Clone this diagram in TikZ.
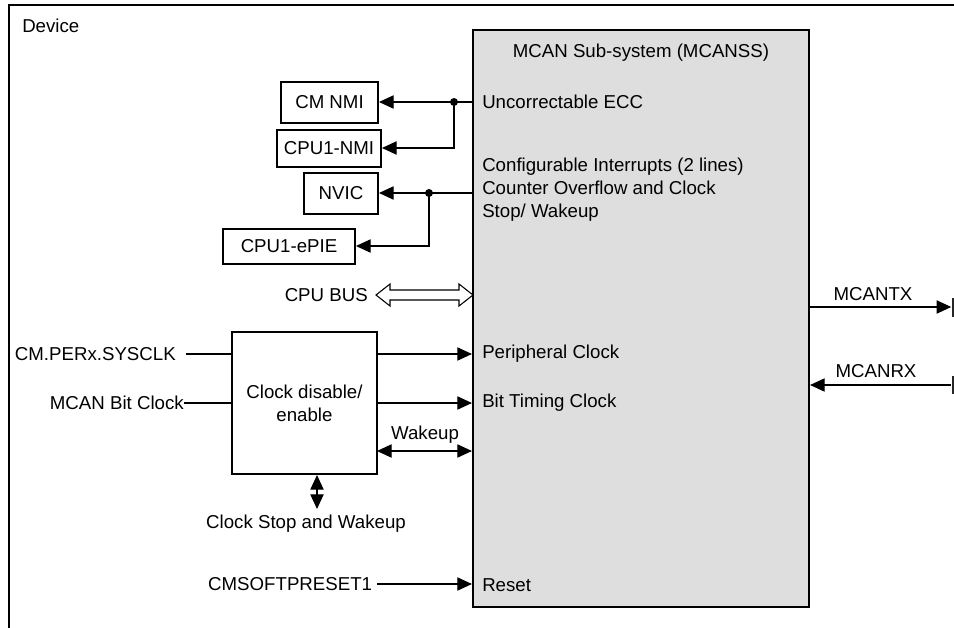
\documentclass[tikz,border=0pt]{standalone}
\usepackage{fontspec}
\setmainfont{Liberation Sans}
\usetikzlibrary{arrows.meta,calc}
\definecolor{subgray}{HTML}{DEDEDE}
\begin{document}
\begin{tikzpicture}[x=0.75pt,y=-0.75pt,
  every node/.style={font=\fontsize{14}{17}\selectfont},
  box/.style={draw,line width=1.5pt,inner sep=0pt,align=center},
  lbl/.style={inner sep=0pt},
  conn/.style={line width=0.8pt},
  arr/.style={conn,-{Triangle[length=11pt,width=10pt]}},
  darr/.style={conn,{Triangle[length=11pt,width=10pt]}-{Triangle[length=11pt,width=10pt]}},
  dot/.style={circle,fill,inner sep=0pt,minimum size=6pt}]
\useasboundingbox (0,0) rectangle (954,628);
% device frame
\draw[line width=1.5pt] (9,628) -- (9,5) -- (954,5);
\node[lbl,anchor=west] (dev) at (22,26) {Device};
% MCANSS
\node[draw,fill=subgray,line width=1.6pt,minimum width=336*0.75pt,minimum height=577*0.75pt,inner sep=0pt] (mc) at (641,318.5) {};
\node[lbl] (mctitle) at (641,53) {MCAN Sub-system (MCANSS)};
\node[lbl,anchor=west] (uecc) at (482,102) {Uncorrectable ECC};
\node[lbl,anchor=north west,align=left] (cfg) at (482,158) {Configurable Interrupts (2 lines)\\Counter Overflow and Clock\\Stop/ Wakeup};
\node[lbl,anchor=west] (pclk) at (482,354) {Peripheral Clock};
\node[lbl,anchor=west] (btclk) at (482,403) {Bit Timing Clock};
\node[lbl,anchor=west] (rst) at (482,585) {Reset};
% interrupt target boxes
\node[box,minimum width=97*0.75pt,minimum height=41*0.75pt] (cmnmi) at (329.5,102) {CM NMI};
\node[box,minimum width=104*0.75pt,minimum height=37*0.75pt] (cpunmi) at (329,148) {CPU1-NMI};
\node[box,minimum width=74*0.75pt,minimum height=41*0.75pt] (nvic) at (341,193) {NVIC};
\node[box,minimum width=132*0.75pt,minimum height=35*0.75pt] (epie) at (289,246) {CPU1-ePIE};
\node[dot] (j1) at (454,102) {};
\node[dot] (j2) at (429,193) {};
\draw[arr] (mc.west |- cmnmi.east) -- (cmnmi.east);
\draw[arr] (j1.center) |- (cpunmi.east);
\draw[arr] (mc.west |- nvic.east) -- (nvic.east);
\draw[arr] (j2.center) |- (epie.east);
% CPU BUS
\node[lbl,anchor=east] (cpubus) at (368,295) {CPU BUS};
\draw[line width=0.8pt,fill=white] (376,295) -- (390,284) -- (390,290) -- (459,290) -- (459,284) -- (473,295) -- (459,306) -- (459,300) -- (390,300) -- (390,306) -- cycle;
% clock block
\node[box,minimum width=145*0.75pt,minimum height=142*0.75pt] (clk) at (304.5,403) {Clock disable/\\enable};
\node[lbl,anchor=east,inner xsep=7.5pt] (sysclk) at (186,354) {CM.PERx.SYSCLK};
\node[lbl,anchor=east] (bitclk) at (184,403) {MCAN Bit Clock};
\draw[conn] (sysclk.east) -- (sysclk.east -| clk.west);
\draw[conn] (bitclk.east) -- (bitclk.east -| clk.west);
\draw[arr] (clk.east |- pclk.west) -- (mc.west |- pclk.west);
\draw[arr] (clk.east |- btclk.west) -- (mc.west |- btclk.west);
\coordinate (wk) at (377,451);
\draw[darr] (wk) -- (wk -| mc.west);
\node[lbl] (wklbl) at (425,435) {Wakeup};
\coordinate (cs) at (317,509);
\draw[darr] (cs |- clk.south) -- (cs);
\node[lbl] (cslbl) at (306,524) {Clock Stop and Wakeup};
\node[lbl,anchor=east,inner xsep=3.5pt] (soft) at (377,584) {CMSOFTPRESET1};
\draw[arr] (soft.east) -- (soft.east -| mc.west);
% right side pins
\node[fill=black!85,inner sep=0pt,minimum width=5*0.75pt,minimum height=19*0.75pt] (ptx) at (954,307.5) {};
\node[fill=black!85,inner sep=0pt,minimum width=5*0.75pt,minimum height=18*0.75pt] (prx) at (954,384.5) {};
\draw[arr] (mc.east |- 0,307) -- (ptx.west |- 0,307);
\draw[arr] (prx.west |- 0,385) -- (mc.east |- 0,385);
\node[lbl] (txlbl) at (873,294) {MCANTX};
\node[lbl] (rxlbl) at (876,371) {MCANRX};
\end{tikzpicture}
\end{document}
